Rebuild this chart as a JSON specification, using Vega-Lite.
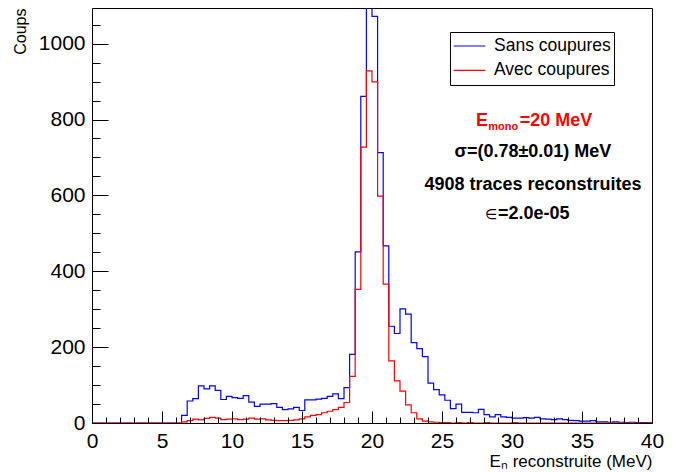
{
  "$schema": "https://vega.github.io/schema/vega-lite/v6.json",
  "width": 560,
  "height": 415,
  "autosize": {"type": "none"},
  "padding": {"left": 92, "top": 8, "right": 27, "bottom": 49},
  "background": "white",
  "config": {
    "view": {"stroke": "black", "strokeWidth": 1},
    "font": "Liberation Sans",
    "axis": {"grid": false, "domain": false, "tickColor": "black", "labelColor": "black", "titleColor": "black", "labelFont": "Liberation Sans", "titleFont": "Liberation Sans"}
  },
  "data": {"values": [
    {"e": 0, "Sans coupures": 0, "Avec coupures": 0},
    {"e": 0.4, "Sans coupures": 0, "Avec coupures": 0},
    {"e": 0.8, "Sans coupures": 0, "Avec coupures": 0},
    {"e": 1.2, "Sans coupures": 0, "Avec coupures": 0},
    {"e": 1.6, "Sans coupures": 0, "Avec coupures": 0},
    {"e": 2.0, "Sans coupures": 0, "Avec coupures": 0},
    {"e": 2.4, "Sans coupures": 0, "Avec coupures": 0},
    {"e": 2.8, "Sans coupures": 0, "Avec coupures": 0},
    {"e": 3.2, "Sans coupures": 0, "Avec coupures": 0},
    {"e": 3.6, "Sans coupures": 0, "Avec coupures": 0},
    {"e": 4.0, "Sans coupures": 0, "Avec coupures": 0},
    {"e": 4.4, "Sans coupures": 0, "Avec coupures": 0},
    {"e": 4.8, "Sans coupures": 0, "Avec coupures": 0},
    {"e": 5.2, "Sans coupures": 0, "Avec coupures": 0},
    {"e": 5.6, "Sans coupures": 0, "Avec coupures": 0},
    {"e": 6.0, "Sans coupures": 0, "Avec coupures": 0},
    {"e": 6.4, "Sans coupures": 20, "Avec coupures": 3},
    {"e": 6.8, "Sans coupures": 58, "Avec coupures": 6},
    {"e": 7.2, "Sans coupures": 64, "Avec coupures": 10},
    {"e": 7.6, "Sans coupures": 98, "Avec coupures": 8},
    {"e": 8.0, "Sans coupures": 90, "Avec coupures": 12},
    {"e": 8.4, "Sans coupures": 98, "Avec coupures": 15},
    {"e": 8.8, "Sans coupures": 86, "Avec coupures": 13},
    {"e": 9.2, "Sans coupures": 62, "Avec coupures": 9},
    {"e": 9.6, "Sans coupures": 70, "Avec coupures": 10},
    {"e": 10.0, "Sans coupures": 67, "Avec coupures": 11},
    {"e": 10.4, "Sans coupures": 65, "Avec coupures": 9},
    {"e": 10.8, "Sans coupures": 72, "Avec coupures": 10},
    {"e": 11.2, "Sans coupures": 55, "Avec coupures": 13},
    {"e": 11.6, "Sans coupures": 44, "Avec coupures": 10},
    {"e": 12.0, "Sans coupures": 50, "Avec coupures": 11},
    {"e": 12.4, "Sans coupures": 50, "Avec coupures": 8},
    {"e": 12.8, "Sans coupures": 51, "Avec coupures": 7},
    {"e": 13.2, "Sans coupures": 41, "Avec coupures": 6},
    {"e": 13.6, "Sans coupures": 35, "Avec coupures": 6},
    {"e": 14.0, "Sans coupures": 37, "Avec coupures": 7},
    {"e": 14.4, "Sans coupures": 41, "Avec coupures": 8},
    {"e": 14.8, "Sans coupures": 33, "Avec coupures": 11},
    {"e": 15.2, "Sans coupures": 61, "Avec coupures": 16},
    {"e": 15.6, "Sans coupures": 61, "Avec coupures": 20},
    {"e": 16.0, "Sans coupures": 63, "Avec coupures": 22},
    {"e": 16.4, "Sans coupures": 65, "Avec coupures": 27},
    {"e": 16.8, "Sans coupures": 70, "Avec coupures": 31},
    {"e": 17.2, "Sans coupures": 77, "Avec coupures": 35},
    {"e": 17.6, "Sans coupures": 64, "Avec coupures": 41},
    {"e": 18.0, "Sans coupures": 93, "Avec coupures": 54},
    {"e": 18.4, "Sans coupures": 181, "Avec coupures": 123},
    {"e": 18.8, "Sans coupures": 451, "Avec coupures": 352},
    {"e": 19.2, "Sans coupures": 861, "Avec coupures": 727},
    {"e": 19.6, "Sans coupures": 1150, "Avec coupures": 928},
    {"e": 20.0, "Sans coupures": 1072, "Avec coupures": 899},
    {"e": 20.4, "Sans coupures": 713, "Avec coupures": 598},
    {"e": 20.8, "Sans coupures": 467, "Avec coupures": 366},
    {"e": 21.2, "Sans coupures": 255, "Avec coupures": 164},
    {"e": 21.6, "Sans coupures": 236, "Avec coupures": 111},
    {"e": 22.0, "Sans coupures": 301, "Avec coupures": 84},
    {"e": 22.4, "Sans coupures": 287, "Avec coupures": 48},
    {"e": 22.8, "Sans coupures": 212, "Avec coupures": 27},
    {"e": 23.2, "Sans coupures": 196, "Avec coupures": 11},
    {"e": 23.6, "Sans coupures": 175, "Avec coupures": 5},
    {"e": 24.0, "Sans coupures": 105, "Avec coupures": 3},
    {"e": 24.4, "Sans coupures": 88, "Avec coupures": 2},
    {"e": 24.8, "Sans coupures": 74, "Avec coupures": 1},
    {"e": 25.2, "Sans coupures": 60, "Avec coupures": 1},
    {"e": 25.6, "Sans coupures": 38, "Avec coupures": 0},
    {"e": 26.0, "Sans coupures": 50, "Avec coupures": 1},
    {"e": 26.4, "Sans coupures": 28, "Avec coupures": 0},
    {"e": 26.8, "Sans coupures": 28, "Avec coupures": 1},
    {"e": 27.2, "Sans coupures": 27, "Avec coupures": 0},
    {"e": 27.6, "Sans coupures": 36, "Avec coupures": 0},
    {"e": 28.0, "Sans coupures": 22, "Avec coupures": 1},
    {"e": 28.4, "Sans coupures": 16, "Avec coupures": 0},
    {"e": 28.8, "Sans coupures": 22, "Avec coupures": 0},
    {"e": 29.2, "Sans coupures": 16, "Avec coupures": 0},
    {"e": 29.6, "Sans coupures": 15, "Avec coupures": 0},
    {"e": 30.0, "Sans coupures": 13, "Avec coupures": 1},
    {"e": 30.4, "Sans coupures": 13, "Avec coupures": 0},
    {"e": 30.8, "Sans coupures": 14, "Avec coupures": 0},
    {"e": 31.2, "Sans coupures": 13, "Avec coupures": 0},
    {"e": 31.6, "Sans coupures": 15, "Avec coupures": 0},
    {"e": 32.0, "Sans coupures": 11, "Avec coupures": 0},
    {"e": 32.4, "Sans coupures": 10, "Avec coupures": 0},
    {"e": 32.8, "Sans coupures": 9, "Avec coupures": 0},
    {"e": 33.2, "Sans coupures": 11, "Avec coupures": 0},
    {"e": 33.6, "Sans coupures": 9, "Avec coupures": 0},
    {"e": 34.0, "Sans coupures": 7, "Avec coupures": 0},
    {"e": 34.4, "Sans coupures": 6, "Avec coupures": 0},
    {"e": 34.8, "Sans coupures": 5, "Avec coupures": 0},
    {"e": 35.2, "Sans coupures": 5, "Avec coupures": 0},
    {"e": 35.6, "Sans coupures": 6, "Avec coupures": 0},
    {"e": 36.0, "Sans coupures": 3, "Avec coupures": 0},
    {"e": 36.4, "Sans coupures": 3, "Avec coupures": 0},
    {"e": 36.8, "Sans coupures": 2, "Avec coupures": 0},
    {"e": 37.2, "Sans coupures": 3, "Avec coupures": 0},
    {"e": 37.6, "Sans coupures": 2, "Avec coupures": 0},
    {"e": 38.0, "Sans coupures": 1, "Avec coupures": 0},
    {"e": 38.4, "Sans coupures": 2, "Avec coupures": 0},
    {"e": 38.8, "Sans coupures": 1, "Avec coupures": 0},
    {"e": 39.2, "Sans coupures": 1, "Avec coupures": 0},
    {"e": 39.6, "Sans coupures": 1, "Avec coupures": 0},
    {"e": 40.0, "Sans coupures": 1, "Avec coupures": 0}
  ]},
  "layer": [
    {
      "transform": [{"fold": ["Sans coupures", "Avec coupures"], "as": ["serie", "n"]}],
      "mark": {"type": "line", "interpolate": "step-after", "strokeWidth": 1.2, "clip": true},
      "encoding": {
        "x": {"field": "e", "type": "quantitative",
          "scale": {"domain": [0, 40], "nice": false, "zero": false},
          "axis": {"orient": "bottom", "values": [0, 5, 10, 15, 20, 25, 30, 35, 40], "tickSize": -12, "tickWidth": 1,
            "labelFontSize": 21, "labelPadding": 19, "labelFlush": false, "format": "d",
            "title": "Eₙ reconstruite (MeV)", "titleFontSize": 17, "titleFontWeight": "normal",
            "titleX": 560, "titleY": 38, "titleAlign": "right", "titleBaseline": "middle", "titleAnchor": "end", "zindex": 1}},
        "y": {"field": "n", "type": "quantitative",
          "scale": {"domain": [0, 1094], "nice": false},
          "axis": {"orient": "left", "values": [0, 200, 400, 600, 800, 1000], "tickSize": -16, "tickWidth": 1,
            "labelFontSize": 21, "labelPadding": 23, "format": "d",
            "title": "Coups", "titleFontSize": 16, "titleFontWeight": "normal",
            "titleX": -72, "titleY": 0, "titleAngle": 270, "titleAlign": "right", "titleBaseline": "middle", "titleAnchor": "end", "zindex": 1}},
        "color": {"field": "serie", "type": "nominal",
          "scale": {"domain": ["Sans coupures", "Avec coupures"], "range": ["#0000ff", "#ff0000"]},
          "legend": {"title": null, "orient": "none", "legendX": 358, "legendY": 24, "direction": "vertical",
            "symbolType": "stroke", "symbolSize": 1000, "symbolStrokeWidth": 1.2, "clipHeight": 22, "rowPadding": 2.4,
            "labelFontSize": 17.5, "labelOffset": 8, "labelColor": "black", "labelLimit": 300, "padding": 3,
            "strokeColor": "black", "fillColor": "white"}}
      }
    },
    {
      "transform": [{"fold": ["Sans coupures", "Avec coupures"], "as": ["serie", "n"]}],
      "mark": {"type": "point", "opacity": 0},
      "encoding": {
        "x": {"field": "e", "type": "quantitative",
          "axis": {"orient": "bottom", "values": [1,2,3,4,6,7,8,9,11,12,13,14,16,17,18,19,21,22,23,24,26,27,28,29,31,32,33,34,36,37,38,39],
            "tickSize": -6, "labels": false, "title": null, "zindex": 1}},
        "y": {"field": "n", "type": "quantitative",
          "axis": {"orient": "left", "values": [50,100,150,250,300,350,450,500,550,650,700,750,850,900,950,1050],
            "tickSize": -8, "labels": false, "title": null, "zindex": 1}}
      }
    },
    {
      "data": {"values": [{}]},
      "mark": {"type": "text", "text": "E", "fontSize": 18, "fontWeight": "bold", "color": "#ff0000", "align": "left", "baseline": "alphabetic", "font": "Liberation Sans"},
      "encoding": {"x": {"datum": 27.43, "type": "quantitative", "axis": null}, "y": {"datum": 782, "type": "quantitative", "axis": null}}
    },
    {
      "data": {"values": [{}]},
      "mark": {"type": "text", "text": "mono", "fontSize": 11, "fontWeight": "bold", "color": "#ff0000", "align": "left", "baseline": "alphabetic", "font": "Liberation Sans"},
      "encoding": {"x": {"datum": 28.3, "type": "quantitative", "axis": null}, "y": {"datum": 773, "type": "quantitative", "axis": null}}
    },
    {
      "data": {"values": [{}]},
      "mark": {"type": "text", "text": "=20 MeV", "fontSize": 18, "fontWeight": "bold", "color": "#ff0000", "align": "left", "baseline": "alphabetic", "font": "Liberation Sans"},
      "encoding": {"x": {"datum": 30.55, "type": "quantitative", "axis": null}, "y": {"datum": 782, "type": "quantitative", "axis": null}}
    },
    {
      "data": {"values": [{}]},
      "mark": {"type": "text", "text": "σ=(0.78±0.01) MeV", "fontSize": 18, "fontWeight": "bold", "color": "black", "align": "center", "baseline": "middle", "font": "Liberation Sans"},
      "encoding": {"x": {"datum": 31.5, "type": "quantitative", "axis": null}, "y": {"datum": 715, "type": "quantitative", "axis": null}}
    },
    {
      "data": {"values": [{}]},
      "mark": {"type": "text", "text": "4908 traces reconstruites", "fontSize": 18, "fontWeight": "bold", "color": "black", "align": "center", "baseline": "middle", "font": "Liberation Sans"},
      "encoding": {"x": {"datum": 31.5, "type": "quantitative", "axis": null}, "y": {"datum": 627, "type": "quantitative", "axis": null}}
    },
    {
      "data": {"values": [{}]},
      "mark": {"type": "text", "text": "∈", "fontSize": 14, "fontWeight": "normal", "color": "black", "align": "left", "baseline": "alphabetic", "font": "DejaVu Sans"},
      "encoding": {"x": {"datum": 28.07, "type": "quantitative", "axis": null}, "y": {"datum": 538, "type": "quantitative", "axis": null}}
    },
    {
      "data": {"values": [{}]},
      "mark": {"type": "text", "text": "=2.0e-05", "fontSize": 18, "fontWeight": "bold", "color": "black", "align": "left", "baseline": "alphabetic", "font": "Liberation Sans"},
      "encoding": {"x": {"datum": 29.0, "type": "quantitative", "axis": null}, "y": {"datum": 538, "type": "quantitative", "axis": null}}
    }
  ],
  "resolve": {"axis": {"x": "independent", "y": "independent"}}
}
